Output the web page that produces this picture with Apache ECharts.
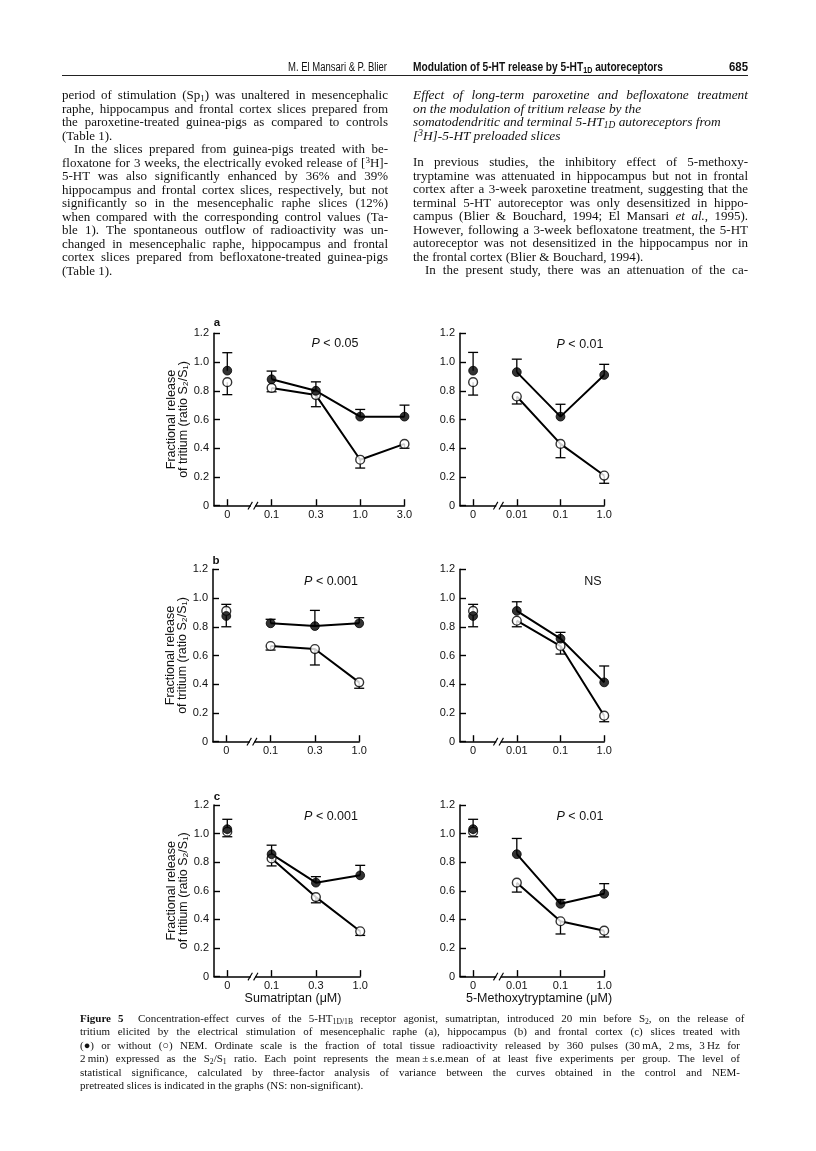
<!DOCTYPE html>
<html><head><meta charset="utf-8">
<script src="https://cdn.jsdelivr.net/npm/echarts@6/dist/echarts.min.js"></script>
<style>
html,body{margin:0;padding:0;background:#fff;}
#page{position:relative;width:816px;height:1151px;overflow:hidden;background:#fff;}
#chart{position:absolute;left:0;top:0;width:816px;height:1151px;}
.ln{position:absolute;white-space:nowrap;color:#111;}
.body{font-family:'Liberation Serif','Times New Roman',serif;font-size:13px;line-height:14px;}
.head{font-family:'Liberation Serif','Times New Roman',serif;font-size:13.4px;line-height:14px;font-style:italic;}
.cap{font-family:'Liberation Serif','Times New Roman',serif;font-size:11px;line-height:13px;}
.hdr{font-family:'Liberation Sans',Arial,sans-serif;font-size:12.5px;line-height:14px;transform-origin:0 50%;}
sub,sup{font-size:70%;line-height:0;}
sub{vertical-align:-0.25em;}
sup{vertical-align:0.45em;}
</style></head><body><div id="page"><div id="chart"></div></div>
<script>
// ---------------- DATA ----------------
const sumaCats5 = ['0','0.1','0.3','1.0','3.0'];
const sumaCats4 = ['0','0.1','0.3','1.0'];
const methCats  = ['0','0.01','0.1','1.0'];

// (a) mesencephalic raphe
const aSumaFilled    = [0.94, 0.88, 0.80, 0.62, 0.62];
const aSumaFilledErr = [1.065, 0.937, 0.862, 0.670, 0.700];
const aSumaOpen      = [0.86, 0.82, 0.77, 0.32, 0.43];
const aSumaOpenErr   = [0.773, 0.793, 0.689, 0.262, 0.400];
const aMethFilled    = [0.94, 0.93, 0.62, 0.91];
const aMethFilledErr = [1.067, 1.020, 0.706, 0.984];
const aMethOpen      = [0.86, 0.76, 0.43, 0.21];
const aMethOpenErr   = [0.770, 0.708, 0.334, 0.156];
// (b) hippocampus
const bSumaFilled    = [0.875, 0.824, 0.805, 0.824];
const bSumaFilledErr = [0.800, 0.852, 0.914, 0.863];
const bSumaOpen      = [0.91, 0.666, 0.645, 0.413];
const bSumaOpenErr   = [0.956, 0.638, 0.534, 0.372];
const bMethFilled    = [0.875, 0.91, 0.717, 0.413];
const bMethFilledErr = [0.800, 0.974, 0.761, 0.527];
const bMethOpen      = [0.91, 0.842, 0.666, 0.181];
const bMethOpenErr   = [0.956, 0.800, 0.610, 0.139];
// (c) frontal cortex
const cSumaFilled    = [1.031, 0.856, 0.657, 0.708];
const cSumaFilledErr = [1.100, 0.919, 0.699, 0.778];
const cSumaOpen      = [1.013, 0.826, 0.556, 0.317];
const cSumaOpenErr   = [0.978, 0.774, 0.516, 0.288];
const cMethFilled    = [1.031, 0.856, 0.509, 0.579];
const cMethFilledErr = [1.100, 0.966, 0.539, 0.650];
const cMethOpen      = [1.013, 0.657, 0.387, 0.321];
const cMethOpenErr   = [0.978, 0.591, 0.298, 0.277];

const statLabels   = ['P < 0.05', 'P < 0.01', 'P < 0.001', 'NS', 'P < 0.001', 'P < 0.01'];
const panelLetters = ['a', 'b', 'c'];
const xNames       = ['Sumatriptan (\u03bcM)', '5-Methoxytryptamine (\u03bcM)'];
const yName        = 'Fractional release\nof tritium (ratio S\u2082/S\u2081)';
const yMin = 0, yMax = 1.2, yStep = 0.2;
const axisBreakAt  = 0.58;

// ---------------- LAYOUT ----------------
const FONT = "'Liberation Sans', Arial, sans-serif";
const panels = [
  {cats: sumaCats5, f: aSumaFilled, fe: aSumaFilledErr, o: aSumaOpen, oe: aSumaOpenErr, stat: statLabels[0], left: true,
   grid: {left: 214, top: 333.3, width: 190.5, height: 172.4}, statPos: [335, 344], letter: panelLetters[0], letterPos: [217, 323]},
  {cats: methCats, f: aMethFilled, fe: aMethFilledErr, o: aMethOpen, oe: aMethOpenErr, stat: statLabels[1], left: false,
   grid: {left: 460, top: 333.3, width: 144.2, height: 172.4}, statPos: [580, 345]},
  {cats: sumaCats4, f: bSumaFilled, fe: bSumaFilledErr, o: bSumaOpen, oe: bSumaOpenErr, stat: statLabels[2], left: true,
   grid: {left: 213, top: 569.3, width: 146.2, height: 172.4}, statPos: [331, 582], letter: panelLetters[1], letterPos: [216, 561]},
  {cats: methCats, f: bMethFilled, fe: bMethFilledErr, o: bMethOpen, oe: bMethOpenErr, stat: statLabels[3], left: false,
   grid: {left: 460, top: 569.3, width: 144.2, height: 172.4}, statPos: [593, 582]},
  {cats: sumaCats4, f: cSumaFilled, fe: cSumaFilledErr, o: cSumaOpen, oe: cSumaOpenErr, stat: statLabels[4], left: true,
   grid: {left: 214, top: 805, width: 146.2, height: 171.6}, statPos: [331, 817], letter: panelLetters[2], letterPos: [217, 797],
   xName: xNames[0], xNamePos: [293, 999]},
  {cats: methCats, f: cMethFilled, fe: cMethFilledErr, o: cMethOpen, oe: cMethOpenErr, stat: statLabels[5], left: false,
   grid: {left: 460, top: 805, width: 144.2, height: 171.6}, statPos: [580, 817],
   xName: xNames[1], xNamePos: [539, 999]}
];

function errRender(params, api) {
  const x = api.value(0), v = api.value(1), e = api.value(2);
  const p1 = api.coord([x, v]), p2 = api.coord([x, e]);
  const hw = 5;
  return {type: 'group', children: [
    {type: 'line', shape: {x1: p1[0], y1: p1[1], x2: p2[0], y2: p2[1]}, style: {stroke: '#000', lineWidth: 1.3}},
    {type: 'line', shape: {x1: p2[0] - hw, y1: p2[1], x2: p2[0] + hw, y2: p2[1]}, style: {stroke: '#000', lineWidth: 1.3}}
  ]};
}
function breakRender(params, api) {
  const p = api.coord([api.value(0), api.value(1)]);
  return {type: 'group', children: [
    {type: 'rect', shape: {x: p[0] - 2.2, y: p[1] - 2, width: 4.4, height: 4}, style: {fill: '#fff'}},
    {type: 'line', shape: {x1: p[0] - 5, y1: p[1] + 3.8, x2: p[0] - 0.6, y2: p[1] - 3.8}, style: {stroke: '#000', lineWidth: 1.1}},
    {type: 'line', shape: {x1: p[0] + 0.6, y1: p[1] + 3.8, x2: p[0] + 5, y2: p[1] - 3.8}, style: {stroke: '#000', lineWidth: 1.1}}
  ]};
}

const grids = [], xAxes = [], yAxes = [], series = [], graphics = [];
panels.forEach((p, i) => {
  grids.push(Object.assign({containLabel: false, outerBoundsMode: 'none'}, p.grid));
  const idx = p.cats.map((_, k) => k);
  const cats = p.cats;
  xAxes.push({
    gridIndex: i, type: 'value', min: -0.3, max: cats.length - 1,
    axisLine: {show: true, onZero: false, lineStyle: {color: '#000', width: 1.5}},
    axisTick: {show: true, inside: true, length: 6.5, customValues: idx, lineStyle: {color: '#000', width: 1.4}},
    axisLabel: {show: true, customValues: idx, margin: 4, fontSize: 11, color: '#111', fontFamily: FONT,
      formatter: v => cats[Math.round(v)]},
    splitLine: {show: false}
  });
  const ya = {
    gridIndex: i, type: 'value', min: yMin, max: yMax, interval: yStep,
    axisLine: {show: true, onZero: false, lineStyle: {color: '#000', width: 1.5}},
    axisTick: {show: true, inside: true, length: 6, lineStyle: {color: '#000', width: 1.4}},
    axisLabel: {show: true, margin: 5, fontSize: 11, color: '#111', fontFamily: FONT,
      formatter: v => (Math.abs(v) < 1e-9 ? '0' : v.toFixed(1))},
    splitLine: {show: false}
  };
  if (p.left) {
    ya.name = yName; ya.nameLocation = 'middle'; ya.nameRotate = 90; ya.nameGap = 14;
    ya.nameTextStyle = {fontSize: 12.5, lineHeight: 11.5, color: '#111', fontFamily: FONT};
  }
  yAxes.push(ya);

  series.push({type: 'custom', xAxisIndex: i, yAxisIndex: i, z: 1, clip: false, silent: true,
    data: idx.map(k => [k, p.f[k], p.fe[k]]).concat(idx.map(k => [k, p.o[k], p.oe[k]])),
    renderItem: errRender});
  series.push({type: 'line', xAxisIndex: i, yAxisIndex: i, z: 2, silent: true, symbol: 'none',
    data: idx.slice(1).map(k => [k, p.f[k]]), lineStyle: {color: '#000', width: 2}});
  series.push({type: 'line', xAxisIndex: i, yAxisIndex: i, z: 2, silent: true, symbol: 'none',
    data: idx.slice(1).map(k => [k, p.o[k]]), lineStyle: {color: '#000', width: 2}});
  series.push({type: 'scatter', xAxisIndex: i, yAxisIndex: i, z: 3, silent: true, symbol: 'circle', symbolSize: 8.8,
    data: idx.map(k => [k, p.o[k]]), itemStyle: {color: '#fff', borderColor: '#000', borderWidth: 1.4}});
  series.push({type: 'scatter', xAxisIndex: i, yAxisIndex: i, z: 4, silent: true, symbol: 'circle', symbolSize: 8.8,
    data: idx.map(k => [k, p.f[k]]), itemStyle: {color: '#000', borderColor: '#000', borderWidth: 1}});
  series.push({type: 'custom', xAxisIndex: i, yAxisIndex: i, z: 5, clip: false, silent: true,
    data: [[axisBreakAt, yMin]], renderItem: breakRender});

  const isP = p.stat.charAt(0) === 'P';
  graphics.push({type: 'text', x: p.statPos[0], y: p.statPos[1], silent: true,
    style: {text: isP ? '{i|P}' + p.stat.slice(1) : p.stat, fontSize: 12.5, fontFamily: FONT, fill: '#111',
      align: 'center', verticalAlign: 'middle',
      rich: {i: {fontStyle: 'italic', fontSize: 12.5, fontFamily: FONT, fill: '#111'}}}});
  if (p.letter) {
    graphics.push({type: 'text', x: p.letterPos[0], y: p.letterPos[1], silent: true,
      style: {text: p.letter, fontSize: 11.5, fontWeight: 'bold', fontFamily: FONT, fill: '#111', align: 'center', verticalAlign: 'middle'}});
  }
  if (p.xName) {
    graphics.push({type: 'text', x: p.xNamePos[0], y: p.xNamePos[1], silent: true,
      style: {text: p.xName, fontSize: 12.5, fontFamily: FONT, fill: '#111', align: 'center', verticalAlign: 'middle'}});
  }
});

const chart = echarts.init(document.getElementById('chart'), null, {renderer: 'canvas'});
chart.setOption({
  animation: false, backgroundColor: 'transparent',
  grid: grids, xAxis: xAxes, yAxis: yAxes, series: series, graphic: graphics
});

// ---------------- PAGE TEXT ----------------
const page = document.getElementById('page');
function addEl(html, cls, left, topCenter, lh) {
  const d = document.createElement('div');
  d.className = 'ln ' + cls;
  d.innerHTML = html;
  d.style.left = left + 'px';
  d.style.top = (topCenter - lh / 2) + 'px';
  page.appendChild(d);
  return d;
}
function fitWidth(d, left, width) {
  const nat = d.getBoundingClientRect().width;
  d.style.left = left + 'px';
  d.style.transform = 'scaleX(' + (width / nat) + ')';
}
function placeLines(lines, o) {
  lines.forEach((ln, k) => {
    const indent = ln[1].indexOf('i') >= 0 ? o.indent : 0;
    const d = addEl(ln[0], o.cls, o.left + indent, o.top0 + k * o.step, o.lh);
    if (ln[1].charAt(0) === 'j') {
      const target = o.width - indent;
      const nat = d.getBoundingClientRect().width;
      const spaces = (d.textContent.match(/ /g) || []).length;
      if (spaces) d.style.wordSpacing = ((target - nat) / spaces) + 'px';
    }
  });
}

// running header
const h1 = addEl('M. El Mansari &amp; P. Blier', 'hdr', 0, 67, 14);
fitWidth(h1, 288, 99);
const h2 = addEl('<b>Modulation of 5-HT release by 5-HT<sub>1D</sub> autoreceptors</b>', 'hdr', 413, 67, 14);
fitWidth(h2, 413, 250);
const h3 = addEl('<b>685</b>', 'hdr', 0, 67, 14);
fitWidth(h3, 729, 19);
const rule = document.createElement('div');
rule.style.cssText = 'position:absolute;left:62px;top:75px;width:686px;height:1.4px;background:#222;';
page.appendChild(rule);

const leftLines = [
  ['period of stimulation (Sp<sub>1</sub>) was unaltered in mesencephalic', 'j'],
  ['raphe, hippocampus and frontal cortex slices prepared from', 'j'],
  ['the paroxetine-treated guinea-pigs as compared to controls', 'j'],
  ['(Table 1).', 'l'],
  ['In the slices prepared from guinea-pigs treated with be-', 'ji'],
  ['floxatone for 3 weeks, the electrically evoked release of [<sup>3</sup>H]-', 'j'],
  ['5-HT was also significantly enhanced by 36% and 39%', 'j'],
  ['hippocampus and frontal cortex slices, respectively, but not', 'j'],
  ['significantly so in the mesencephalic raphe slices (12%)', 'j'],
  ['when compared with the corresponding control values (Ta-', 'j'],
  ['ble 1). The spontaneous outflow of radioactivity was un-', 'j'],
  ['changed in mesencephalic raphe, hippocampus and frontal', 'j'],
  ['cortex slices prepared from befloxatone-treated guinea-pigs', 'j'],
  ['(Table 1).', 'l']
];
placeLines(leftLines, {cls: 'body', left: 62, width: 326, top0: 95, step: 13.5, lh: 14, indent: 12});

const headLines = [
  ['Effect of long-term paroxetine and befloxatone treatment', 'j'],
  ['on the modulation of tritium release by the', 'l'],
  ['somatodendritic and terminal 5-HT<sub>1D</sub> autoreceptors from', 'l'],
  ['[<sup>3</sup>H]-5-HT preloaded slices', 'l']
];
placeLines(headLines, {cls: 'head', left: 413, width: 335, top0: 95, step: 13.5, lh: 14, indent: 0});

const rightLines = [
  ['In previous studies, the inhibitory effect of 5-methoxy-', 'j'],
  ['tryptamine was attenuated in hippocampus but not in frontal', 'j'],
  ['cortex after a 3-week paroxetine treatment, suggesting that the', 'j'],
  ['terminal 5-HT autoreceptor was only desensitized in hippo-', 'j'],
  ['campus (Blier &amp; Bouchard, 1994; El Mansari <i>et al.</i>, 1995).', 'j'],
  ['However, following a 3-week befloxatone treatment, the 5-HT', 'j'],
  ['autoreceptor was not desensitized in the hippocampus nor in', 'j'],
  ['the frontal cortex (Blier &amp; Bouchard, 1994).', 'l'],
  ['In the present study, there was an attenuation of the ca-', 'ji']
];
placeLines(rightLines, {cls: 'body', left: 413, width: 335, top0: 162, step: 13.5, lh: 14, indent: 12});

const capLines = [
  ['<b>Figure 5</b>&nbsp; Concentration-effect curves of the 5-HT<sub>1D/1B</sub> receptor agonist, sumatriptan, introduced 20 min before S<sub>2</sub>, on the release of', 'j'],
  ['tritium elicited by the electrical stimulation of mesencephalic raphe (a), hippocampus (b) and frontal cortex (c) slices treated with', 'j'],
  ['(\u25cf) or without (\u25cb) NEM. Ordinate scale is the fraction of total tissue radioactivity released by 360 pulses (30\u2009mA, 2\u2009ms, 3\u2009Hz for', 'j'],
  ['2\u2009min) expressed as the S<sub>2</sub>/S<sub>1</sub> ratio. Each point represents the mean\u2009\u00b1\u2009s.e.mean of at least five experiments per group. The level of', 'j'],
  ['statistical significance, calculated by three-factor analysis of variance between the curves obtained in the control and NEM-', 'j'],
  ['pretreated slices is indicated in the graphs (NS: non-significant).', 'l']
];
placeLines(capLines, {cls: 'cap', left: 80, width: 660, top0: 1018, step: 13.5, lh: 13, indent: 0});
</script></body></html>
